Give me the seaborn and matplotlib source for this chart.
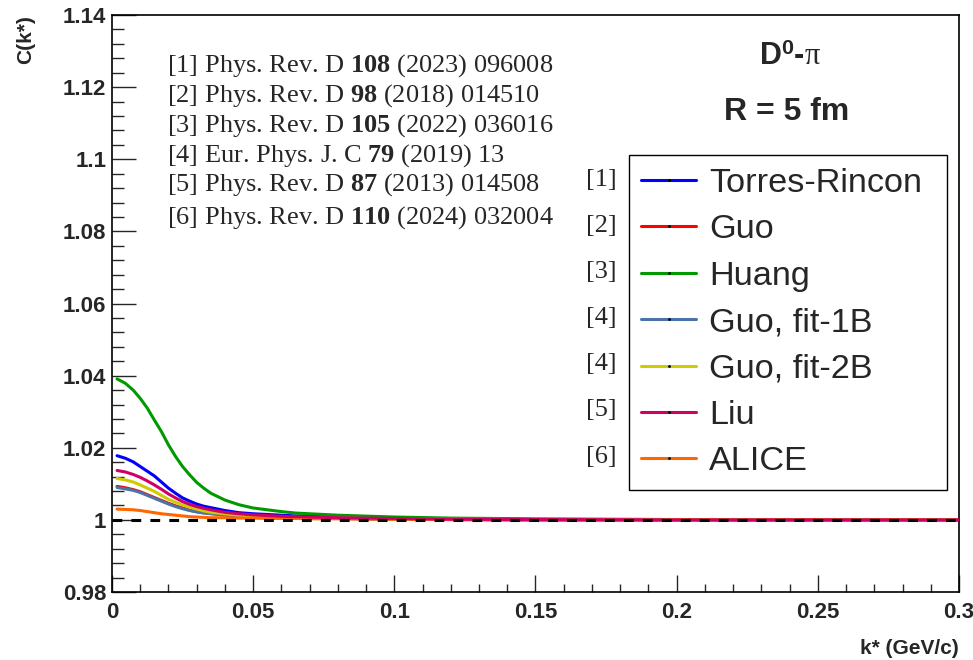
import matplotlib
matplotlib.use("Agg")
import matplotlib.pyplot as plt
import seaborn as sns
import pandas as pd
from matplotlib.lines import Line2D
from matplotlib.ticker import MultipleLocator, FuncFormatter

# k* grid (GeV/c) shared by all model curves
k_star = [0.0018, 0.0047, 0.0075, 0.01, 0.0125, 0.015, 0.0175, 0.02, 0.0225, 0.025,
          0.0275, 0.03, 0.0325, 0.035, 0.04, 0.045, 0.05, 0.055, 0.06, 0.065,
          0.07, 0.08, 0.1, 0.12, 0.15, 0.2, 0.25, 0.3]

c_torres = [1.0178, 1.0171, 1.0161, 1.0148, 1.0135, 1.0122, 1.0105, 1.0088, 1.0074, 1.0061,
            1.0052, 1.0044, 1.0038, 1.0034, 1.0026, 1.0020, 1.0017, 1.0015, 1.0013, 1.0011,
            1.0010, 1.0008, 1.0005, 1.0003, 1.0001, 1.0, 1.0, 1.0]
c_guo = [1.0093, 1.0089, 1.0084, 1.0078, 1.0070, 1.0062, 1.0054, 1.0046, 1.0039, 1.0033,
         1.0027, 1.0023, 1.0020, 1.0018, 1.0014, 1.0011, 1.0009, 1.0008, 1.0007, 1.0006,
         1.0005, 1.0004, 1.0002, 1.0001, 1.0, 1.0, 1.0, 1.0]
c_huang = [1.0391, 1.0379, 1.0360, 1.0337, 1.0310, 1.0277, 1.0245, 1.0208, 1.0176, 1.0148,
           1.0125, 1.0104, 1.0088, 1.0074, 1.0055, 1.0042, 1.0033, 1.0028, 1.0023, 1.0019,
           1.0017, 1.0013, 1.0008, 1.0005, 1.0003, 1.0001, 1.0, 1.0]
c_fit1b = [1.0090, 1.0086, 1.0082, 1.0076, 1.0068, 1.0060, 1.0052, 1.0044, 1.0037, 1.0031,
           1.0026, 1.0022, 1.0019, 1.0017, 1.0013, 1.0010, 1.0008, 1.0007, 1.0006, 1.0006,
           1.0005, 1.0004, 1.0002, 1.0001, 1.0, 1.0, 1.0, 1.0]
c_fit2b = [1.0115, 1.0111, 1.0105, 1.0097, 1.0088, 1.0079, 1.0068, 1.0057, 1.0049, 1.0042,
           1.0035, 1.0030, 1.0025, 1.0021, 1.0017, 1.0013, 1.0011, 1.0010, 1.0008, 1.0007,
           1.0006, 1.0005, 1.0003, 1.0002, 1.0001, 1.0, 1.0, 1.0]
c_liu = [1.0137, 1.0133, 1.0126, 1.0118, 1.0108, 1.0097, 1.0085, 1.0072, 1.0061, 1.0051,
         1.0043, 1.0037, 1.0032, 1.0028, 1.0021, 1.0017, 1.0014, 1.0012, 1.0010, 1.0009,
         1.0008, 1.0006, 1.0004, 1.0002, 1.0001, 1.0, 1.0, 1.0]
c_alice = [1.0030, 1.0029, 1.0028, 1.0026, 1.0023, 1.0020, 1.0017, 1.0015, 1.0013, 1.0011,
           1.0009, 1.0008, 1.0007, 1.0006, 1.0006, 1.0005, 1.0005, 1.0004, 1.0004, 1.0004,
           1.0003, 1.0003, 1.0002, 1.0001, 1.0, 1.0, 1.0, 1.0]

models = ["Torres-Rincon", "Guo", "Huang", "Guo, fit-1B", "Guo, fit-2B", "Liu", "ALICE"]
model_refs = ["[1]", "[2]", "[3]", "[4]", "[4]", "[5]", "[6]"]
colors = ["#0000ff", "#ff0000", "#009900", "#4a74a8", "#cccc00", "#cc0066", "#ff6600"]

references = [
    ("[1] Phys. Rev. D", "108", "(2023) 096008"),
    ("[2] Phys. Rev. D", "98", "(2018) 014510"),
    ("[3] Phys. Rev. D", "105", "(2022) 036016"),
    ("[4] Eur. Phys. J. C", "79", "(2019) 13"),
    ("[5] Phys. Rev. D", "87", "(2013) 014508"),
    ("[6] Phys. Rev. D", "110", "(2024) 032004"),
]

series = [c_torres, c_guo, c_huang, c_fit1b, c_fit2b, c_liu, c_alice]
df = pd.concat([pd.DataFrame({"k": k_star, "C": vals, "model": name})
                for name, vals in zip(models, series)], ignore_index=True)

sns.set_theme(style="ticks")
plt.rcParams["font.family"] = ["Liberation Sans", "DejaVu Sans"]
plt.rcParams["mathtext.fontset"] = "custom"
plt.rcParams["mathtext.rm"] = "Liberation Serif"
plt.rcParams["mathtext.it"] = "Liberation Serif"
plt.rcParams["mathtext.bf"] = "Liberation Serif:bold"
plt.rcParams["mathtext.sf"] = "Liberation Sans:bold"

fig = plt.figure(figsize=(9.73, 6.6), dpi=100)
ax = fig.add_axes([0.1151, 0.1030, 0.8705, 0.8742])

palette = dict(zip(models, colors))
sns.lineplot(data=df, x="k", y="C", hue="model", hue_order=models, palette=palette,
             linewidth=2.2, legend=False, ax=ax, estimator=None, sort=True)
# Liu drawn above ALICE at the tail
for line, name in zip(ax.get_lines(), models):
    if name == "Liu":
        line.set_zorder(3)

ax.axhline(1.0, color="black", linestyle=(0, (3.2, 3)), linewidth=2.2, zorder=5)

ax.set_xlim(0, 0.3)
ax.set_ylim(0.98, 1.14)
ax.xaxis.set_major_locator(MultipleLocator(0.05))
ax.xaxis.set_minor_locator(MultipleLocator(0.01))
ax.yaxis.set_major_locator(MultipleLocator(0.02))
ax.yaxis.set_minor_locator(MultipleLocator(0.004))
fmt = FuncFormatter(lambda v, p: f"{v:.2f}".rstrip("0").rstrip("."))
ax.xaxis.set_major_formatter(fmt)
ax.yaxis.set_major_formatter(fmt)

ax.tick_params(axis="y", which="major", direction="in", length=17, width=1, pad=4)
ax.tick_params(axis="y", which="minor", direction="in", length=8.5, width=1)
ax.tick_params(axis="x", which="major", direction="in", length=12, width=1, pad=7)
ax.tick_params(axis="x", which="minor", direction="in", length=6, width=1)
for lab in ax.get_xticklabels() + ax.get_yticklabels():
    lab.set_fontsize(16)
    lab.set_fontweight("bold")
for sp in ax.spines.values():
    sp.set_linewidth(1.2)
    sp.set_color("black")

ax.set_xlabel("k* (GeV/c)", fontsize=15, fontweight="bold", loc="right")
ax.xaxis.set_label_coords(1.0, -0.082)
ax.set_ylabel("C(k*)", fontsize=15, fontweight="bold", loc="top")
ax.yaxis.set_label_coords(-0.091, 1.0)

# reference list
ref_y = [66, 96, 126, 156, 185, 218]
for (pre, vol, post), yp in zip(references, ref_y):
    fig.text(167 / 973, 1 - yp / 660, pre + r" $\mathbf{" + vol + "}$ " + post,
             fontsize=19, family="Liberation Serif", va="center", ha="left")

fig.text(790 / 973, 1 - 57 / 660, r"D$^{\mathsf{0}}$-$\pi$", fontsize=22,
         fontweight="bold", ha="center", va="center")
fig.text(787 / 973, 1 - 112 / 660, "R = 5 fm", fontsize=23, fontweight="bold",
         ha="center", va="center")

handles = [Line2D([0], [0], color=c, linewidth=2.2, marker=".", markersize=2,
                  markerfacecolor="black", markeredgecolor="black") for c in colors]
leg = fig.legend(handles, models, loc="upper left",
                 bbox_to_anchor=(629 / 973, 1 - 156 / 660, 318 / 973, 0.001),
                 bbox_transform=fig.transFigure, mode="expand", fontsize=24.7,
                 frameon=True, fancybox=False, framealpha=1, edgecolor="black",
                 handlelength=1.6, handletextpad=0.38, labelspacing=0.45,
                 borderpad=0.36, borderaxespad=0)
leg.get_frame().set_linewidth(1)

row_y = [180, 226, 272, 318, 364, 410, 457]
for lab, yp in zip(model_refs, row_y):
    fig.text(617 / 973, 1 - yp / 660, lab, fontsize=19, family="Liberation Serif",
             ha="right", va="center")

fig.savefig("out.png", dpi=100)
